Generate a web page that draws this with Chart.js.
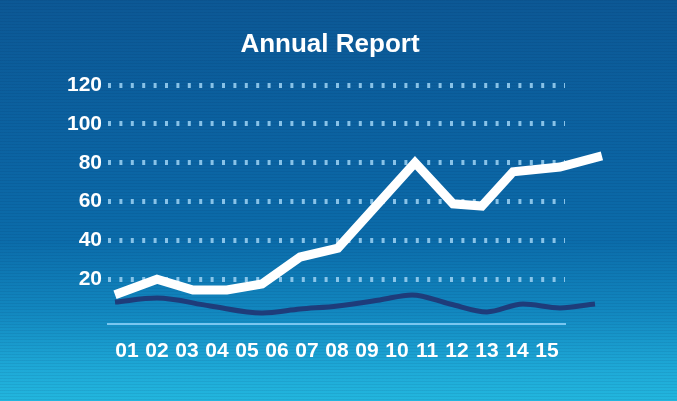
<!DOCTYPE html>
<html>
<head>
<meta charset="utf-8">
<script src="https://cdn.jsdelivr.net/npm/chart.js@4/dist/chart.umd.min.js"></script>
<style>
  html, body { margin: 0; padding: 0; }
  body {
    width: 677px; height: 401px; overflow: hidden;
    background:
      repeating-linear-gradient(to bottom, rgba(0,20,60,0.07) 0px, rgba(0,20,60,0.07) 1px, rgba(0,0,0,0) 1px, rgba(0,0,0,0) 3px),
      linear-gradient(to bottom, #0c5895 0%, #0b64a3 40%, #0b6caa 60%, #1288c0 78%, #1ea9d7 92%, #22b6de 100%);
  }
  #wrap { position: relative; width: 677px; height: 401px; }
  canvas { display: block; }
</style>
</head>
<body>
<div id="wrap"><canvas id="c" width="677" height="401"></canvas></div>
<script>
// ---- data ----
const titleText = "Annual Report";
const xTickValues = [1, 2, 3, 4, 5, 6, 7, 8, 9, 10, 11, 12, 13, 14, 15];
const xTickLabels = ["01", "02", "03", "04", "05", "06", "07", "08", "09", "10", "11", "12", "13", "14", "15"];
const yTickValues = [20, 40, 60, 80, 100, 120];
const yTickLabels = ["20", "40", "60", "80", "100", "120"];

// upper (white) series: positions along the period axis and values
const whiteX = [0.6, 2.0, 3.2, 4.33, 5.5, 6.77, 8.03, 10.6, 11.87, 12.83, 13.87, 15.43, 16.83];
const whiteY = [12, 20, 14.4, 14.4, 17.5, 31.4, 36, 80, 58.8, 57.7, 75.3, 77.8, 83.5];

// lower (dark) series
const darkX = [0.6, 2.0, 3.77, 5.5, 6.77, 8.03, 9.43, 10.5, 11.77, 13.0, 14.2, 15.43, 16.6];
const darkY = [8.2, 10.3, 6.2, 2.6, 4.6, 6.2, 9.3, 11.9, 7.2, 3.1, 7.2, 5.2, 7.2];

const toPoints = (xs, ys) => xs.map((x, i) => ({ x: x, y: ys[i] }));

const FONT = "'Liberation Sans', Arial, sans-serif";

new Chart(document.getElementById('c'), {
  type: 'line',
  data: {
    datasets: [
      {
        label: 'A',
        data: toPoints(whiteX, whiteY),
        borderColor: '#ffffff',
        borderWidth: 9,
        tension: 0,
        borderJoinStyle: 'miter',
        borderCapStyle: 'butt',
        pointRadius: 0,
        fill: false,
        clip: false
      },
      {
        label: 'B',
        data: toPoints(darkX, darkY),
        borderColor: '#1e3c7a',
        borderWidth: 5,
        tension: 0.4,
        cubicInterpolationMode: 'monotone',
        pointRadius: 0,
        fill: false,
        clip: false
      }
    ]
  },
  options: {
    responsive: false,
    animation: false,
    devicePixelRatio: 1,
    layout: { padding: { left: 0, right: 17, top: 0, bottom: 0 } },
    plugins: {
      legend: { display: false },
      tooltip: { enabled: false },
      title: {
        display: true,
        text: titleText,
        color: '#ffffff',
        font: { family: FONT, size: 26, weight: 'bold', lineHeight: 1.2 },
        padding: { top: 29, bottom: 21 }
      }
    },
    scales: {
      x: {
        type: 'linear',
        min: 0.3667,
        max: 15.6,
        afterBuildTicks: (axis) => { axis.ticks = xTickValues.map(v => ({ value: v })); },
        afterFit: (s) => { s.height = 77; },
        grid: { display: false, drawTicks: false },
        border: { display: true, color: '#79c6f0', width: 2 },
        ticks: {
          autoSkip: false,
          maxRotation: 0,
          padding: 15,
          color: '#ffffff',
          font: { family: FONT, size: 21, weight: 'bold' },
          callback: (v) => { const i = xTickValues.indexOf(v); return i >= 0 ? xTickLabels[i] : ''; }
        }
      },
      y: {
        type: 'linear',
        min: -3.1,
        max: 122,
        afterBuildTicks: (axis) => { axis.ticks = yTickValues.map(v => ({ value: v })); },
        afterFit: (s) => { s.width = 108; },
        grid: { display: true, drawTicks: false, color: 'rgba(150,205,240,0.9)', lineWidth: 5 },
        border: { display: false, dash: [3, 8.4] },
        ticks: {
          padding: 6,
          color: '#ffffff',
          font: { family: FONT, size: 21, weight: 'bold' },
          callback: (v) => { const i = yTickValues.indexOf(v); return i >= 0 ? yTickLabels[i] : ''; }
        }
      },
      yRight: {
        type: 'linear',
        position: 'right',
        display: true,
        min: 0, max: 1,
        afterFit: (s) => { s.width = 95; },
        grid: { display: false, drawTicks: false },
        border: { display: false },
        ticks: { display: false }
      }
    }
  }
});
</script>
</body>
</html>
